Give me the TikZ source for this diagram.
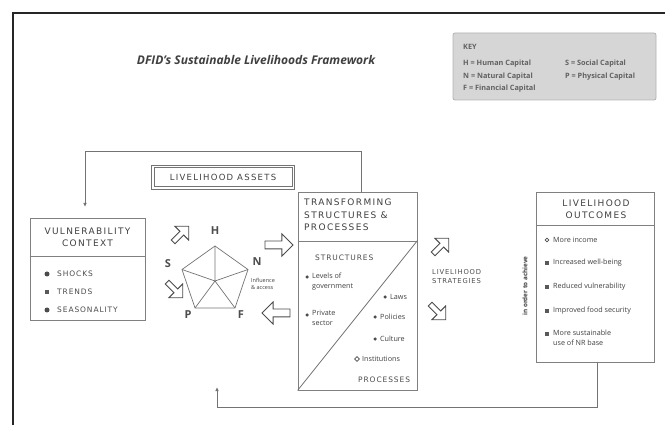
\documentclass[tikz,border=0pt]{standalone}
\usepackage{fontspec}
\setmainfont{Open Sans}
\newfontfamily\hdfont[LetterSpace=15]{DejaVu Sans}
\newfontfamily\capfont[LetterSpace=12]{DejaVu Sans}
\usetikzlibrary{shapes.arrows,shapes.geometric,arrows.meta}
\begin{document}
\begin{tikzpicture}[x=1pt,y=-1pt,
  box/.style={draw=black!50, line width=0.8pt, fill=white, inner sep=0pt},
  hd/.style={font=\hdfont\fontsize{9}{12}\selectfont, text=black!75, align=center, inner sep=0pt},
  hdl/.style={font=\hdfont\fontsize{9}{12.5}\selectfont, text=black!75, align=left, inner sep=0pt, anchor=west},
  capt/.style={font=\capfont\fontsize{7.5}{9}\selectfont, text=black!70, inner sep=0pt, anchor=west},
  sm/.style={font=\fontsize{7.2}{10}\selectfont, text=black!75, inner sep=0pt, anchor=west, align=left},
  keyt/.style={font=\bfseries\fontsize{7.3}{9}\selectfont, text=black!62, inner sep=0pt, anchor=west},
  blk/.style={single arrow, draw=black!70, line width=0.9pt, fill=white, minimum height=22pt, minimum width=10pt, inner sep=2.2pt},
  bigblk/.style={single arrow, draw=black!70, line width=0.9pt, fill=white, minimum height=28pt, minimum width=15pt, inner sep=3.5pt},
  conn/.style={draw=black!55, line width=0.9pt},
  tip/.style={-{Latex[length=4pt,width=3.5pt]}},
  dotb/.style={circle, fill=black!70, inner sep=0pt, minimum size=5pt},
  sdot/.style={circle, fill=black!70, inner sep=0pt, minimum size=3.5pt},
  sqb/.style={rectangle, fill=black!65, inner sep=0pt, minimum size=3.2pt},
  hdot/.style={circle, draw=black!70, line width=0.7pt, inner sep=0pt, minimum size=3.8pt},
  hdia/.style={diamond, draw=black!70, line width=0.7pt, inner sep=0pt, minimum size=5pt},
  capl/.style={font=\bfseries\fontsize{11}{12}\selectfont, text=black!70, inner sep=0pt},
  spoke/.style={draw=black!55, line width=0.7pt}
]
\useasboundingbox (0,0) rectangle (665,425);
\draw[black!85, line width=1.1pt] (13,425) -- (13,13) -- (665,13);

% title
\node[font=\bfseries\itshape\fontsize{12}{14}\selectfont, text=black!75, inner sep=0pt] (title) at (256,60) {DFID's Sustainable Livelihoods Framework};

% key
\node[draw=black!30, fill=black!16, line width=0.8pt, rounded corners=2pt, minimum width=203pt, minimum height=67pt, inner sep=0pt] (key) at (554.5,66.5) {};
\node[keyt] (k0) at (463,47) {KEY};
\node[keyt] (k1) at (463,64) {H = Human Capital};
\node[keyt] (k2) at (463,77) {N = Natural Capital};
\node[keyt] (k3) at (463,89) {F = Financial Capital};
\node[keyt] (k4) at (565,64) {S = Social Capital};
\node[keyt] (k5) at (565,77) {P = Physical Capital};

% vulnerability context
\node[box, minimum width=115pt, minimum height=102pt] (vul) at (87.5,269) {};
\draw[draw=black!50, line width=0.8pt] (vul.west |- 0,256) -- (vul.east |- 0,256);
\node[hd] (vulh) at (87.5,237) {VULNERABILITY\\CONTEXT};
\node[dotb] (vb1) at (47,274) {};
\node[capt] (vt1) at (57,274) {SHOCKS};
\node[sqb, minimum size=4.5pt] (vb2) at (47,292) {};
\node[capt] (vt2) at (57,292) {TRENDS};
\node[dotb] (vb3) at (47,310) {};
\node[capt] (vt3) at (57,310) {SEASONALITY};

% livelihood assets (double frame)
\node[draw=black!55, line width=0.7pt, minimum width=143pt, minimum height=24pt, inner sep=0pt] (assets) at (223,177) {};
\node[draw=black!55, line width=0.6pt, minimum width=138pt, minimum height=19pt, inner sep=0pt, font=\hdfont\fontsize{8.5}{10}\selectfont, text=black!75] (assetst) at (223,177) {LIVELIHOOD ASSETS};

% pentagon
\coordinate (pc) at (215,281);
\coordinate (vh) at (215,246);
\coordinate (vn) at (248,269.5);
\coordinate (vf) at (235,308);
\coordinate (vp) at (195,308);
\coordinate (vs) at (182,269.5);
\draw[spoke, line join=round] (vh) -- (vn) -- (vf) -- (vp) -- (vs) -- cycle;
\draw[spoke] (pc) -- (vh) (pc) -- (vn) (pc) -- (vf) (pc) -- (vp) (pc) -- (vs);
\node[capl] (lh) at (215,231) {H};
\node[capl] (ls) at (168,264) {S};
\node[capl] (ln) at (257,262) {N};
\node[capl] (lp) at (188,315) {P};
\node[capl] (lf) at (241,315) {F};
\node[font=\fontsize{5.5}{6.5}\selectfont, text=black!75, align=left, inner sep=0pt, anchor=west] (infl) at (251,284) {Influence\\\& access};

% block arrows
\node[blk, rotate=45] (a1) at (180,235) {};
\node[blk, rotate=-45] (a2) at (174,289) {};
\node[bigblk] (a3) at (277,245) {};
\node[bigblk, rotate=180] (a4) at (278,313) {};
\node[blk, rotate=45] (a5) at (440,247) {};
\node[blk, rotate=-45] (a6) at (437,311) {};

% transforming structures
\node[box, minimum width=119pt, minimum height=198pt] (trans) at (357.5,291) {};
\draw[draw=black!50, line width=0.8pt] (trans.west |- 0,241) -- (trans.east |- 0,241);
\draw[draw=black!55, line width=0.8pt] (trans.south west) -- ([yshift=-49pt]trans.north east);
\node[hdl] (transh) at (304,215) {TRANSFORMING\\STRUCTURES \&\\PROCESSES};
\node[capt] (struct) at (315,258) {STRUCTURES};
\node[sdot] (tb1) at (307,277) {};
\node[sm, anchor=north west] (tt1) at (312,272.5) {Levels of\\government};
\node[sdot] (tb2) at (307,315) {};
\node[sm, anchor=north west] (tt2) at (312,310.5) {Private\\sector};
\node[sdot] (tb3) at (385,297) {};
\node[sm] (tt3) at (390,297) {Laws};
\node[sdot] (tb4) at (375,317) {};
\node[sm] (tt4) at (380,317) {Policies};
\node[sdot] (tb5) at (375,339) {};
\node[sm] (tt5) at (380,339) {Culture};
\node[hdia] (tb6) at (357,359) {};
\node[sm] (tt6) at (362,359) {Institutions};
\node[capt] (proc) at (358,380) {PROCESSES};

% livelihood strategies
\node[font=\capfont\fontsize{6.8}{9}\selectfont, text=black!70, align=left, inner sep=0pt, anchor=west] (strat) at (432,277) {LIVELIHOOD\\STRATEGIES};
\node[font=\bfseries\fontsize{6.3}{7}\selectfont, text=black!75, inner sep=0pt, rotate=90] (order) at (525,286) {in order to achieve};

% livelihood outcomes
\node[box, minimum width=118pt, minimum height=170pt] (out) at (595,277) {};
\draw[draw=black!50, line width=0.8pt] (out.west |- 0,225) -- (out.east |- 0,225);
\node[hd] (outh) at (596,209) {LIVELIHOOD\\OUTCOMES};
\node[hdot] (ob1) at (547,240) {};
\node[sm] (ot1) at (553,240) {More income};
\node[sqb] (ob2) at (547,263) {};
\node[sm] (ot2) at (553,263) {Increased well-being};
\node[sqb] (ob3) at (547,287) {};
\node[sm] (ot3) at (553,287) {Reduced vulnerability};
\node[sqb] (ob4) at (547,311) {};
\node[sm] (ot4) at (553,311) {Improved food security};
\node[sqb] (ob5) at (547,334) {};
\node[sm, anchor=north west] (ot5) at (553,329.5) {More sustainable\\use of NR base};

% feedback connectors
\coordinate (vtip) at (85,207);
\coordinate (btip) at (217,387);
\draw[conn, tip] ([xshift=3.5pt]trans.north) -- ++(0,-40) -| (vtip);
\draw[conn, tip] ([xshift=2pt]out.south) -- ++(0,45) -| (btip);
\end{tikzpicture}
\end{document}
